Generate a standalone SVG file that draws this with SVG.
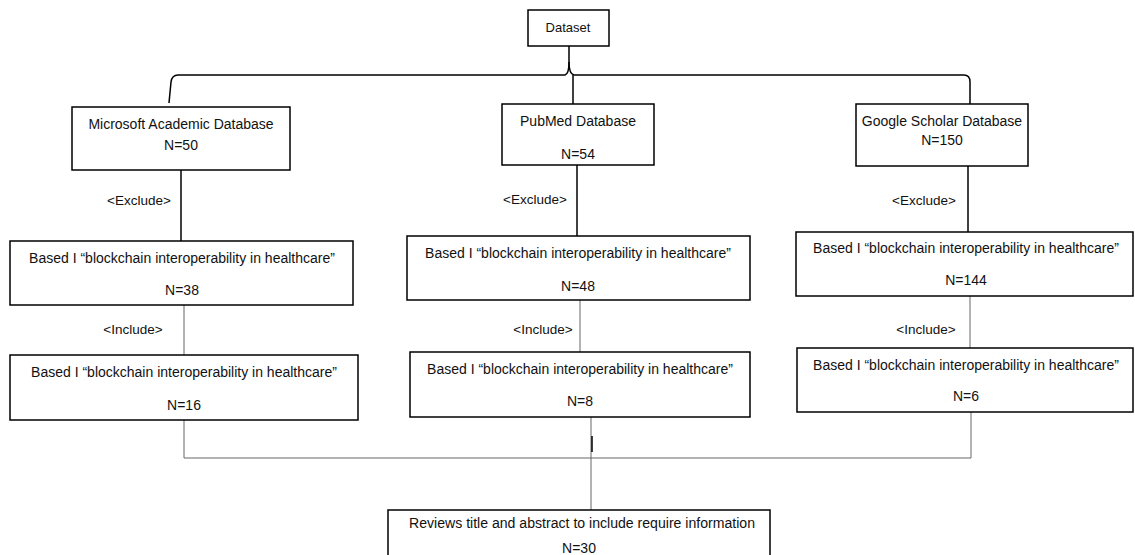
<svg xmlns="http://www.w3.org/2000/svg" width="1135" height="555" viewBox="0 0 1135 555">
<style>
.box{fill:#fff;stroke:#000;stroke-width:1.5}
.t{font-family:"Liberation Sans",Arial,sans-serif;font-size:14px;fill:#111;text-anchor:middle}
.lbl{font-family:"Liberation Sans",Arial,sans-serif;font-size:13.5px;fill:#111;text-anchor:middle}
.thick{fill:none;stroke:#000;stroke-width:1.5}
.thin{fill:none;stroke:#666;stroke-width:1}
</style>
<rect width="1135" height="555" fill="#fff"/>
<g id="connectors">
<path class="thick" d="M569 46 L569 62 Q569 74 565 75 L178 75 Q172 75 171 82 L169 103"/>
<path class="thick" d="M569 62 Q569 74 574 75 L964 75 Q970 75 970 82 L970 104"/>
<path class="thick" d="M573 75 L573 104"/>
<path class="thick" d="M181 170 L181 241"/>
<path class="thick" d="M577 165 L577 236"/>
<path class="thick" d="M968 166 L968 232"/>
<path class="thin" d="M184 305 L184 355"/>
<path class="thin" d="M580 300 L580 352"/>
<path class="thin" d="M970 296 L970 348"/>
<path class="thin" d="M184 420 L184 458 L971 458 L971 412"/>
<path class="thin" d="M591 417 L591 510"/>
<path class="thick" d="M592 436 L592 452"/>
<text class="lbl" x="139" y="205">&lt;Exclude&gt;</text>
<text class="lbl" x="535" y="204">&lt;Exclude&gt;</text>
<text class="lbl" x="924" y="205">&lt;Exclude&gt;</text>
<text class="lbl" x="133" y="334">&lt;Include&gt;</text>
<text class="lbl" x="543" y="334">&lt;Include&gt;</text>
<text class="lbl" x="926" y="334">&lt;Include&gt;</text>
</g>
<g id="dataset">
<rect class="box" x="528" y="10" width="81" height="36"/>
<text class="t" x="568" y="32" style="font-size:13px">Dataset</text>
</g>
<g id="microsoft">
<rect class="box" x="72" y="107" width="218" height="63"/>
<text class="t" x="181" y="129">Microsoft Academic Database</text>
<text class="t" x="181" y="150">N=50</text>
</g>
<g id="pubmed">
<rect class="box" x="502" y="104" width="152" height="61"/>
<text class="t" x="578" y="126">PubMed Database</text>
<text class="t" x="578" y="159">N=54</text>
</g>
<g id="google">
<rect class="box" x="856" y="104" width="172" height="62"/>
<text class="t" x="942" y="126">Google Scholar Database</text>
<text class="t" x="942" y="145">N=150</text>
</g>
<g id="ms-exclude">
<rect class="box" x="10" y="241" width="343" height="64"/>
<text class="t" x="182" y="263">Based I “blockchain interoperability in healthcare”</text>
<text class="t" x="182" y="295">N=38</text>
</g>
<g id="pm-exclude">
<rect class="box" x="407" y="236" width="343" height="64"/>
<text class="t" x="578" y="258">Based I “blockchain interoperability in healthcare”</text>
<text class="t" x="578" y="291">N=48</text>
</g>
<g id="gs-exclude">
<rect class="box" x="796" y="232" width="337" height="64"/>
<text class="t" x="966" y="253">Based I “blockchain interoperability in healthcare”</text>
<text class="t" x="966" y="285">N=144</text>
</g>
<g id="ms-include">
<rect class="box" x="10" y="355" width="348" height="65"/>
<text class="t" x="184" y="377">Based I “blockchain interoperability in healthcare”</text>
<text class="t" x="184" y="410">N=16</text>
</g>
<g id="pm-include">
<rect class="box" x="410" y="352" width="340" height="65"/>
<text class="t" x="580" y="374">Based I “blockchain interoperability in healthcare”</text>
<text class="t" x="580" y="406">N=8</text>
</g>
<g id="gs-include">
<rect class="box" x="797" y="348" width="336" height="64"/>
<text class="t" x="966" y="370">Based I “blockchain interoperability in healthcare”</text>
<text class="t" x="966" y="401">N=6</text>
</g>
<g id="review">
<rect class="box" x="388" y="510" width="382" height="50"/>
<text class="t" x="582" y="528" textLength="346" lengthAdjust="spacingAndGlyphs">Reviews title and abstract to include require information</text>
<text class="t" x="579" y="553">N=30</text>
</g>
</svg>
